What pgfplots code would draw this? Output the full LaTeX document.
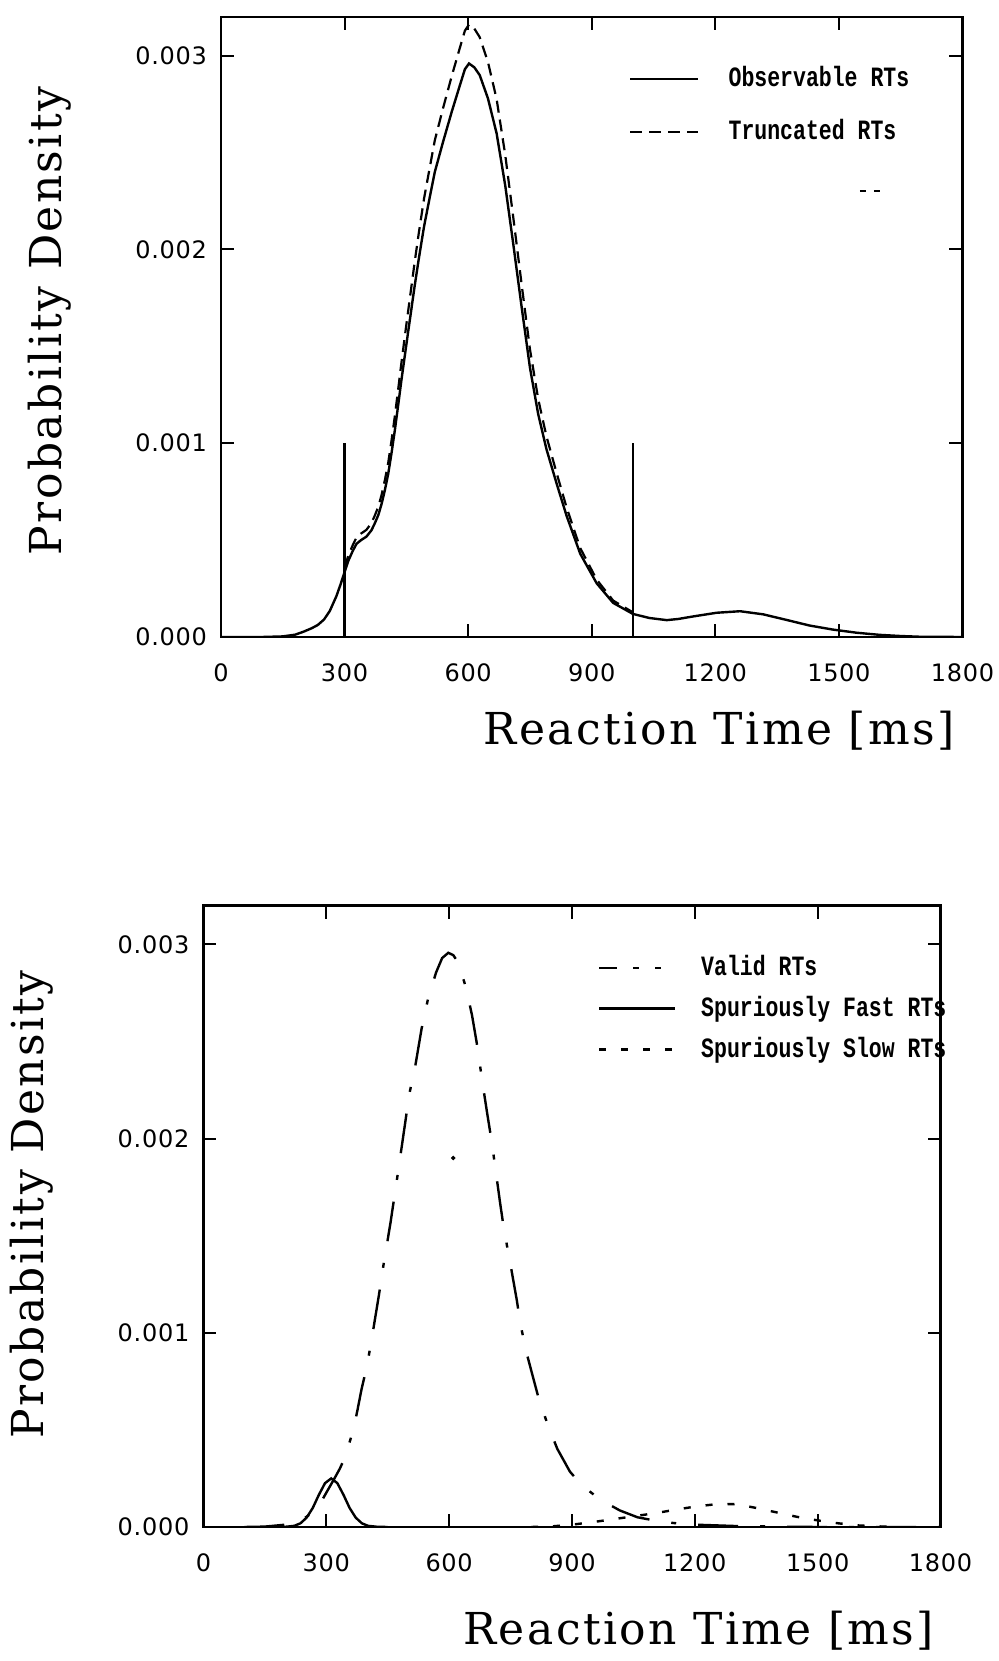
\documentclass[border=0pt]{standalone}
\usepackage{fontspec}
\usepackage{graphicx}
\usepackage{pgfplots}
\pgfplotsset{compat=1.18}

\newfontfamily\labelfont[LetterSpace=5.5]{DejaVu Serif}
\newfontfamily\tickfont[LetterSpace=3]{DejaVu Sans}
\newfontfamily\legfont{Liberation Mono}

\newcommand{\lt}[1]{\scalebox{1}[1.3]{#1}}

\pgfplotsset{
  rtaxis/.style={
    scale only axis,
    anchor=south west,
    xmin=0, xmax=1800, ymin=0, ymax=3.2,
    xtick={0,300,...,1800},
    xticklabels={0,300,600,900,1200,1500,1800},
    ytick={0,1,2,3},
    yticklabels={0.000,0.001,0.002,0.003},
    tick align=inside,
    major tick length=6.5pt,
    axis line style={line width=1.3pt},
    every tick/.style={black, line width=1pt},
    tick label style={font=\tickfont\fontsize{12}{14}\selectfont},
    xticklabel style={yshift=-10pt},
    yticklabel style={xshift=-3.5pt},
    label style={font=\labelfont\fontsize{22}{26}\selectfont},
    legend cell align=left,
    legend style={draw=none, fill=none, anchor=north west,
      font=\legfont\bfseries\fontsize{10.75}{12}\selectfont,
      inner sep=0pt,
      nodes={text height=9pt, text depth=1pt, inner sep=1pt}},
  },
  curve/.style={black, line width=1.2pt},
}

\begin{document}
\begin{tikzpicture}
\useasboundingbox (0,0) rectangle (499.5pt,830.5pt);

% upper panel: observable vs truncated
\begin{axis}[rtaxis,
  at={(110.5pt,512pt)}, width=370.75pt, height=310pt,
  xlabel={Reaction Time [ms]},
  ylabel={Probability Density},
  xlabel style={at={(axis description cs:0.672,0)}, anchor=center, yshift=-47pt},
  ylabel style={at={(axis description cs:-0.2309,0.51)}, anchor=center},
  legend image code/.code={\draw[#1] (0pt,0pt) -- (34pt,0pt);},
  legend style={at={(axis description cs:0.55,0.92)}, row sep=14.5pt,
    /tikz/every odd column/.append style={column sep=13.5pt}},
]
\addplot[curve] coordinates {
(0,0) (100,0) (150,0.003) (180,0.012) (200,0.027) (220,0.045) (235,0.062)
(250,0.090) (264,0.134) (280,0.210) (290,0.27) (300,0.335) (309,0.393)
(320,0.445) (329,0.481) (340,0.500) (353,0.518) (365,0.550) (373,0.585)
(382,0.630) (390,0.688) (398,0.760) (406,0.843) (414,0.950) (422,1.067)
(430,1.195) (438,1.326) (450,1.51) (460,1.66) (470,1.81) (480,1.95)
(493,2.12) (507,2.272) (519,2.40) (539,2.555) (560,2.71) (580,2.848)
(592,2.93) (602,2.96) (615,2.94) (628,2.90) (648,2.78) (669,2.60)
(690,2.33) (710,2.02) (730,1.70) (750,1.39) (770,1.15) (790,0.97)
(815,0.79) (839,0.625) (872,0.43) (912,0.277) (952,0.176) (1000,0.119)
(1040,0.098) (1082,0.087) (1110,0.093) (1146,0.106) (1203,0.125)
(1260,0.133) (1316,0.117) (1373,0.088) (1429,0.059) (1486,0.038)
(1543,0.022) (1599,0.011) (1650,0.005) (1700,0.001) (1800,0)};
\addlegendentry{\lt{Observable RTs}}
\addplot[curve, line width=1.1pt, dash pattern=on 6pt off 3.5pt] coordinates {
(300,0.358) (309,0.420) (320,0.475) (329,0.514) (340,0.534) (353,0.553)
(365,0.587) (373,0.625) (382,0.673) (390,0.735) (398,0.812) (406,0.900)
(414,1.015) (422,1.140) (430,1.276) (438,1.416) (450,1.613) (460,1.773)
(470,1.933) (480,2.083) (493,2.264) (507,2.426) (519,2.563) (539,2.729)
(560,2.894) (580,3.042) (592,3.129) (602,3.161) (615,3.140) (628,3.096)
(648,2.968) (669,2.777) (690,2.488) (710,2.157) (730,1.816) (750,1.485)
(770,1.228) (790,1.036) (815,0.844) (839,0.668) (872,0.459) (912,0.296)
(952,0.188) (1000,0.127)};
\addlegendentry{\lt{Truncated RTs}}
% truncation bounds
\addplot[curve, forget plot] coordinates {(300,0) (300,1.0)};
\addplot[curve, forget plot] coordinates {(1000,0) (1000,1.0)};
% stray mark in the scan
\addplot[black, line width=1pt, dash pattern=on 3pt off 4pt, forget plot] coordinates {(1551,2.30) (1602,2.30)};
\end{axis}

% lower panel: components
\begin{axis}[rtaxis,
  at={(101.7pt,67pt)}, width=368.6pt, height=310.7pt,
  xlabel={Reaction Time [ms]},
  ylabel={Probability Density},
  xlabel style={at={(axis description cs:0.672,0)}, anchor=center, yshift=-52pt},
  ylabel style={at={(axis description cs:-0.2328,0.519)}, anchor=center},
  legend image code/.code={\draw[#1] (0pt,0pt) -- (38pt,0pt);},
  legend style={at={(axis description cs:0.535,0.92)}, row sep=8.4pt,
    /tikz/every odd column/.append style={column sep=11.3pt}},
]
\addlegendimage{curve, dash pattern=on 9pt off 8pt on 3pt off 8pt on 3pt off 8pt}
\addlegendentry{\lt{Valid RTs}}
\addplot[curve, forget plot, dash pattern=on 20pt off 11pt on 2.5pt off 11pt] coordinates {
(100,0) (150,0.002) (200,0.012) (230,0.03) (250,0.05) (270,0.08) (285,0.12)
(301,0.18) (320,0.25) (333,0.30) (346,0.36) (356,0.43) (366,0.50) (376,0.60)
(386,0.708) (395,0.79) (403,0.872) (415,1.02) (429,1.20) (439,1.34)
(457,1.569) (477,1.853) (493,2.086) (503,2.232) (517,2.370) (533,2.569)
(548,2.715) (568,2.855) (583,2.93) (598,2.957) (610,2.945) (622,2.907)
(641,2.779) (656,2.634) (667,2.498) (683,2.266) (693,2.129) (704,1.984)
(724,1.676) (734,1.530) (747,1.385) (765,1.171) (775,1.035) (791,0.881)
(818,0.667) (840,0.531) (864,0.403) (895,0.285) (923,0.217) (968,0.142)
(1017,0.085) (1060,0.05) (1110,0.03) (1150,0.02) (1200,0.012) (1300,0.005)
(1400,0.002) (1500,0) (1800,0)};
\addplot[curve] coordinates {
(150,0) (200,0.001) (222,0.006) (237,0.019) (252,0.048) (267,0.098)
(282,0.166) (297,0.226) (312,0.25) (327,0.226) (342,0.166) (357,0.098)
(372,0.048) (387,0.019) (402,0.006) (425,0.001) (450,0)};
\addlegendentry{\lt{Spuriously Fast RTs}}
\addplot[curve, dash pattern=on 3.5pt off 7.5pt] coordinates {
(800,0) (850,0.003) (900,0.012) (950,0.025) (1000,0.04) (1050,0.055)
(1100,0.07) (1150,0.088) (1200,0.105) (1250,0.117) (1300,0.118)
(1350,0.098) (1400,0.075) (1450,0.052) (1500,0.034) (1550,0.019)
(1600,0.008) (1650,0.003) (1700,0)};
\addlegendentry{\lt{Spuriously Slow RTs}}
% stray dot in the scan
\addplot[black, only marks, mark=*, mark size=0.9pt, forget plot] coordinates {(610,1.90)};
\end{axis}
\end{tikzpicture}
\end{document}
